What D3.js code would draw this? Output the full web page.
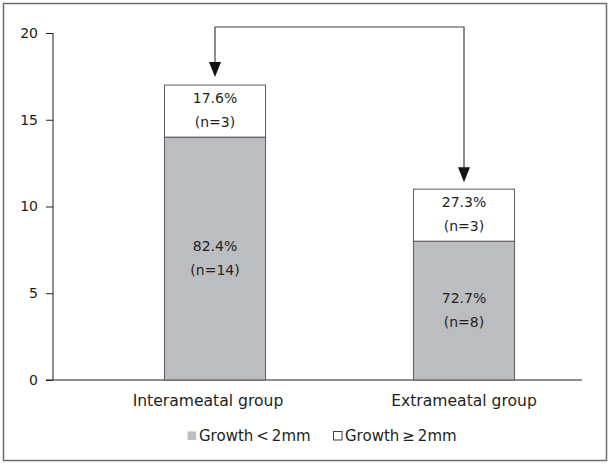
<!DOCTYPE html>
<html>
<head>
<meta charset="utf-8">
<script src="https://cdn.jsdelivr.net/npm/d3@7"></script>
<style>
  body { margin: 0; background: #fff; }
  svg text { font-family: "DejaVu Sans", sans-serif; fill: #231f20; }
</style>
</head>
<body>
<svg id="chart"></svg>
<script>
var groups = ["Interameatal group", "Extrameatal group"];
var below2mm = [14, 8];
var above2mm = [3, 3];
var belowPct = ["82.4%", "72.7%"];
var abovePct = ["17.6%", "27.3%"];
var yTicks = [0, 5, 10, 15, 20];
var legendLabels = ["Growth\u2009<\u20092mm", "Growth\u2009\u2265\u20092mm"];

document.addEventListener("DOMContentLoaded", function() {
	var width = 611;
	var height = 465;
	var svg = d3.select("#chart").attr("width", width).attr("height", height);

	// frame
	svg.append("rect").attr("x", 3.5).attr("y", 3.5)
		.attr("width", 603).attr("height", 457)
		.attr("fill", "none").attr("stroke", "#6d6e71").attr("stroke-width", 1.5);

	var y = d3.scaleLinear().domain([0, 20]).range([380, 33]);
	var x = d3.scaleBand().domain(groups).range([90.5, 588.5])
		.paddingInner(0.594).paddingOuter(0.297);

	// y axis
	var yAxis = svg.append("g").attr("transform", "translate(53,0)")
		.call(d3.axisLeft(y).tickValues(yTicks).tickSize(7).tickPadding(8));
	yAxis.select(".domain").remove();
	yAxis.append("line").attr("x1", 0).attr("x2", 0)
		.attr("y1", y(20)).attr("y2", y(0)).attr("stroke", "#231f20");
	yAxis.selectAll(".tick line").attr("stroke", "#231f20");
	yAxis.selectAll(".tick text")
		.style("font-family", "DejaVu Sans").style("font-size", "14px").attr("fill", "#231f20");

	// x baseline
	svg.append("line").attr("x1", 46).attr("x2", 582)
		.attr("y1", y(0)).attr("y2", y(0)).attr("stroke", "#231f20").attr("stroke-width", 1.2);

	// bars
	var bars = svg.append("g").selectAll("g").data(groups).enter().append("g");
	bars.append("rect")
		.attr("x", function(d) { return x(d); })
		.attr("y", function(d, i) { return y(below2mm[i]); })
		.attr("width", x.bandwidth())
		.attr("height", function(d, i) { return y(0) - y(below2mm[i]); })
		.attr("fill", "#bcbdc0").attr("stroke", "#58595b").attr("stroke-width", 1);
	bars.append("rect")
		.attr("x", function(d) { return x(d); })
		.attr("y", function(d, i) { return y(below2mm[i] + above2mm[i]); })
		.attr("width", x.bandwidth())
		.attr("height", function(d, i) { return y(below2mm[i]) - y(below2mm[i] + above2mm[i]); })
		.attr("fill", "#fff").attr("stroke", "#58595b").attr("stroke-width", 1);

	function segLabel(sel, lo, hi, pct, n) {
		sel.each(function(d, i) {
			var mid = (y(lo[i]) + y(hi[i])) / 2;
			var g = d3.select(this);
			var cx = x(d) + x.bandwidth() / 2;
			g.append("text").attr("x", cx).attr("y", mid - 8)
				.attr("text-anchor", "middle").style("font-size", "14px").text(pct[i]);
			g.append("text").attr("x", cx).attr("y", mid + 16)
				.attr("text-anchor", "middle").style("font-size", "14px").text("(n=" + n[i] + ")");
		});
	}
	segLabel(bars, [0, 0], below2mm, belowPct, below2mm);
	segLabel(bars, below2mm, below2mm.map(function(v, i) { return v + above2mm[i]; }), abovePct, above2mm);

	// x labels (first one sits a little left of its bar in the original)
	var labelShift = [-7, 0];
	svg.append("g").selectAll("text").data(groups).enter().append("text")
		.attr("x", function(d, i) { return x(d) + x.bandwidth() / 2 + labelShift[i]; })
		.attr("y", 406).attr("text-anchor", "middle").style("font-size", "15.6px")
		.text(function(d) { return d; });

	// arrow connecting the two bars
	var c1 = x(groups[0]) + x.bandwidth() / 2;
	var c2 = x(groups[1]) + x.bandwidth() / 2;
	var topY = 27;
	var tip1 = y(below2mm[0] + above2mm[0]) - 8;
	var tip2 = y(below2mm[1] + above2mm[1]) - 7;
	svg.append("path")
		.attr("d", "M" + c1 + "," + (tip1 - 14) + "V" + topY + "H" + c2 + "V" + (tip2 - 14))
		.attr("fill", "none").attr("stroke", "#414042").attr("stroke-width", 1.2);
	[[c1, tip1], [c2, tip2]].forEach(function(p) {
		svg.append("path")
			.attr("d", "M" + (p[0] - 6) + "," + (p[1] - 15) + "L" + (p[0] + 6) + "," + (p[1] - 15) + "L" + p[0] + "," + p[1] + "Z")
			.attr("fill", "#111");
	});

	// legend
	var legend = svg.append("g");
	var lx = [187, 333];
	var fills = ["#bcbdc0", "#fff"];
	legendLabels.forEach(function(lab, i) {
		legend.append("rect").attr("x", lx[i] + 0.5).attr("y", 431.5).attr("width", 8.5).attr("height", 8.5)
			.attr("fill", fills[i]).attr("stroke", i ? "#414042" : "none");
		legend.append("text").attr("x", lx[i] + 12).attr("y", 441).style("font-size", "15px").text(lab);
	});
});
</script>
</body>
</html>
